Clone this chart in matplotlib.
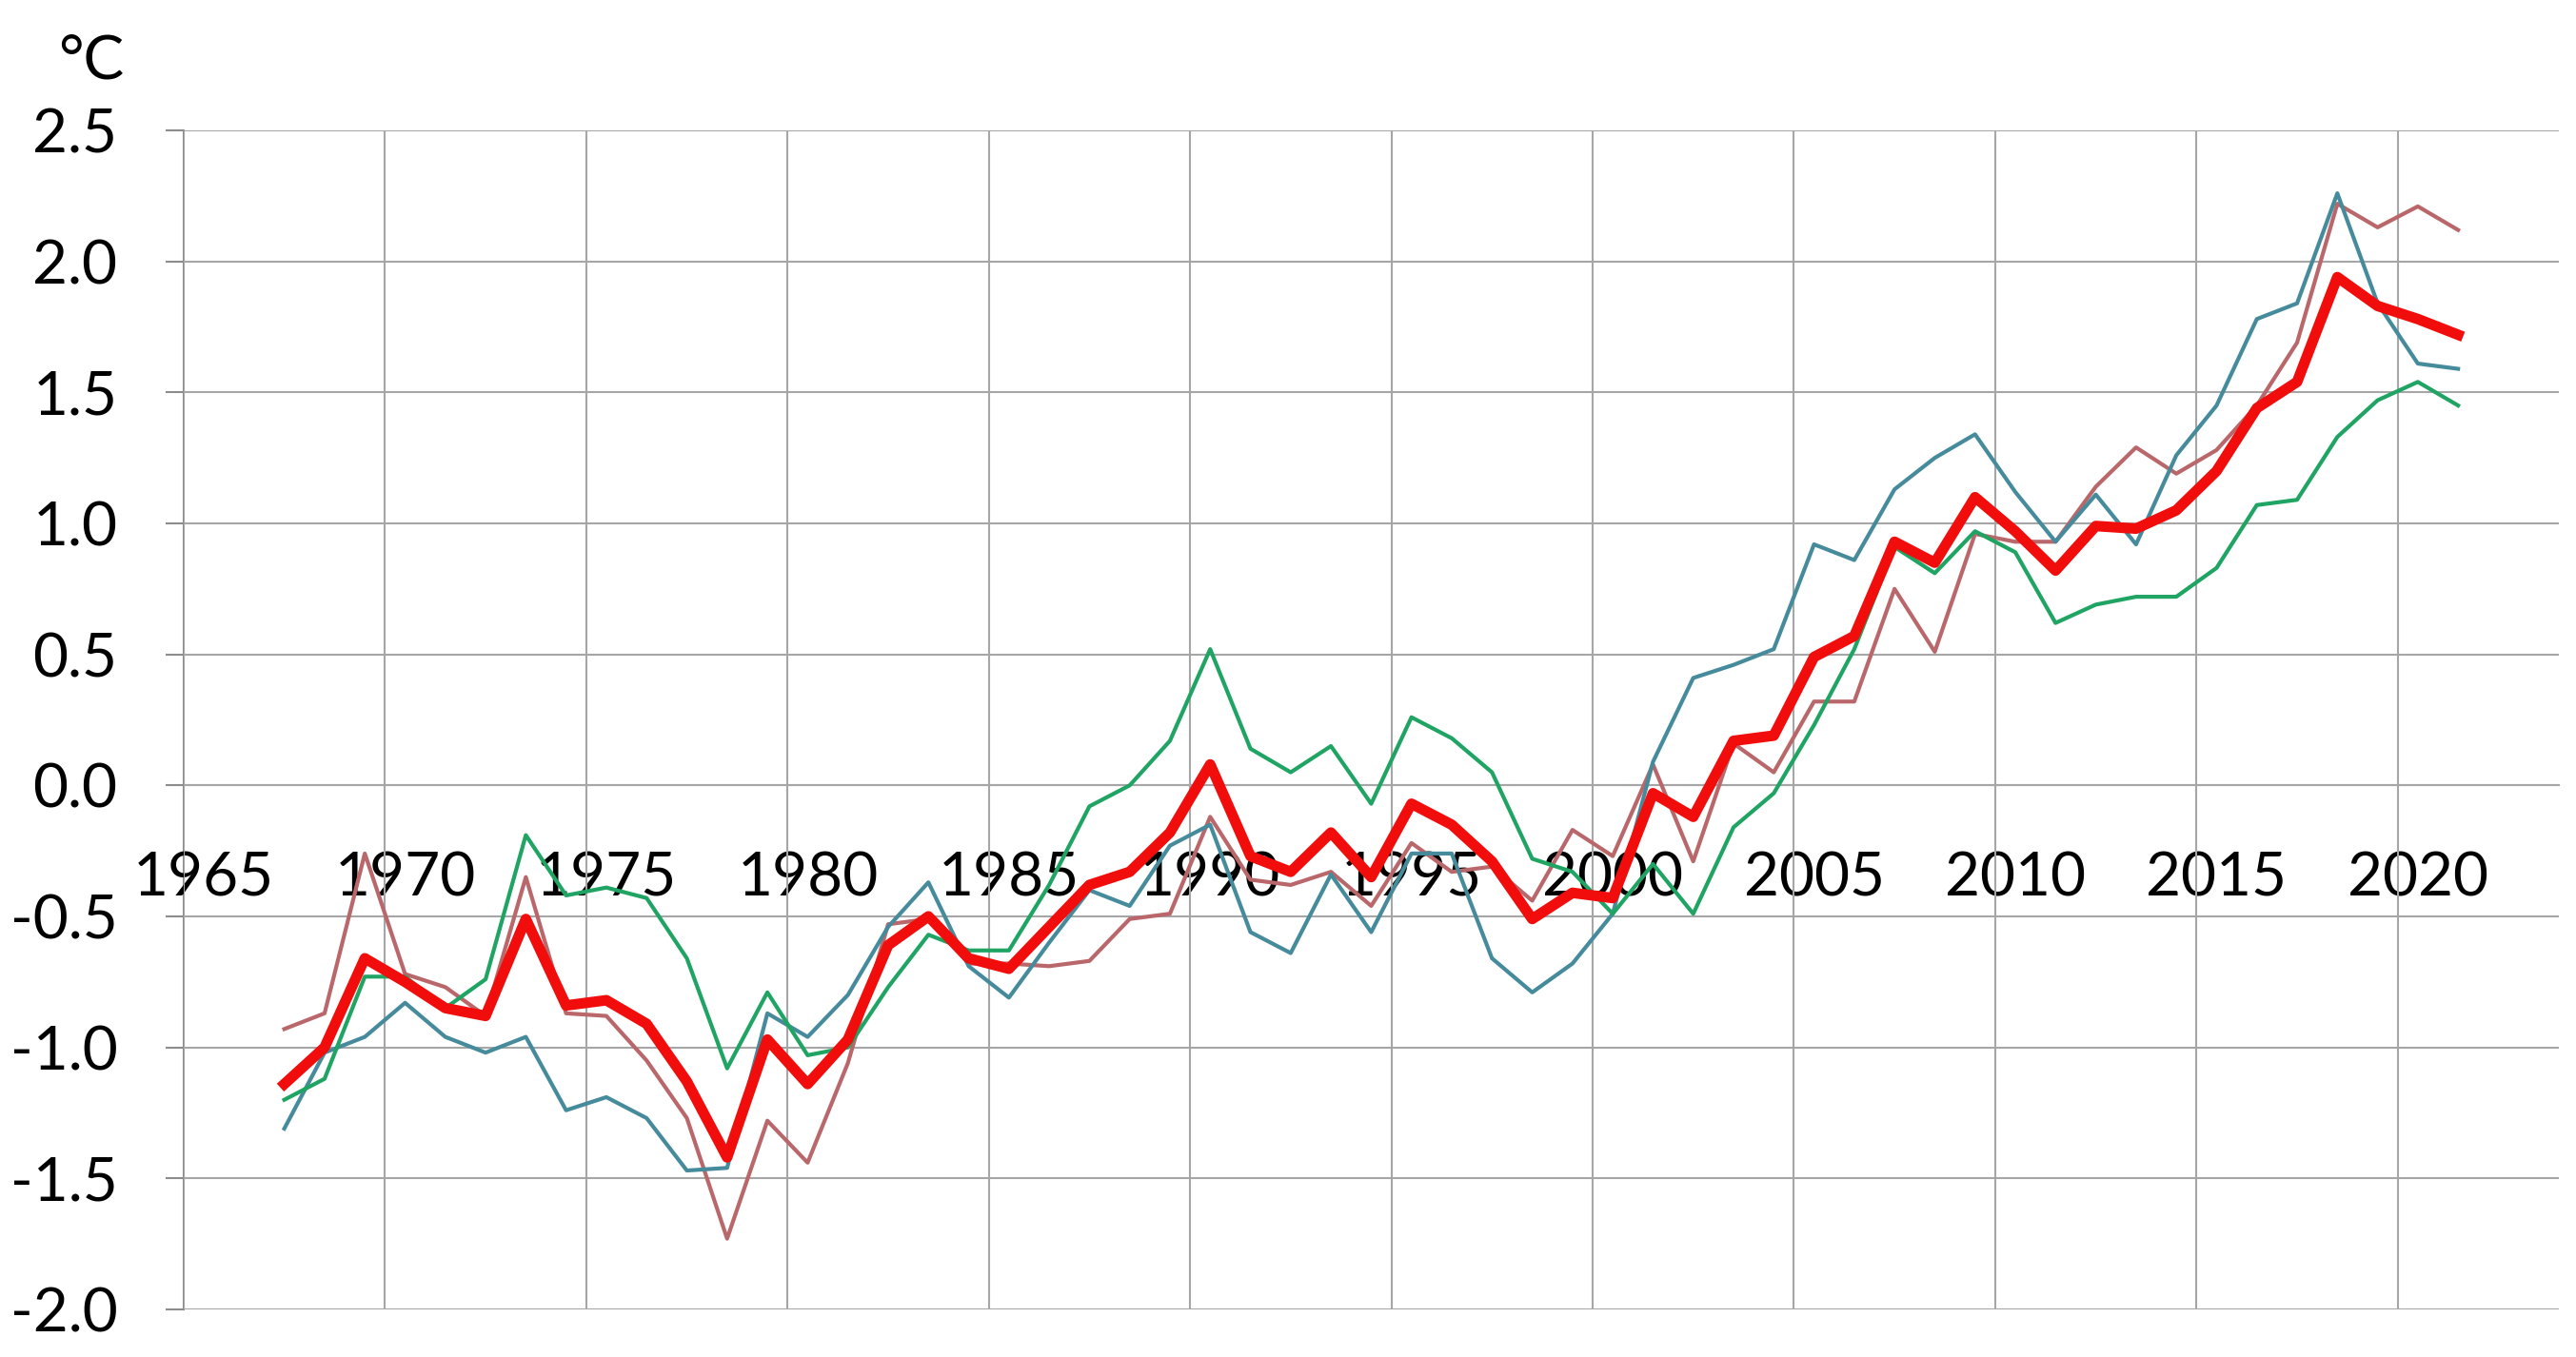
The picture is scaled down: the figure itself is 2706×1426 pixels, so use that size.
import matplotlib
matplotlib.use("Agg")
import matplotlib.pyplot as plt
from matplotlib.ticker import FixedLocator

plt.rcParams['font.family'] = ['Lato', 'DejaVu Sans']

years = list(range(1967, 2022))

# mean of the three series (thick red)
mean_vals = [-1.14, -1.00, -0.66, -0.75, -0.85, -0.88, -0.51, -0.84, -0.82, -0.91,
             -1.13, -1.42, -0.97, -1.14, -0.97, -0.61, -0.50, -0.66, -0.70, -0.54,
             -0.38, -0.33, -0.18, 0.08, -0.27, -0.33, -0.18, -0.35, -0.07, -0.15,
             -0.29, -0.51, -0.41, -0.43, -0.03, -0.12, 0.17, 0.19, 0.49, 0.57,
             0.93, 0.85, 1.10, 0.97, 0.82, 0.99, 0.98, 1.05, 1.20, 1.44,
             1.54, 1.94, 1.83, 1.78, 1.72]
brown_vals = [-0.93, -0.87, -0.26, -0.72, -0.77, -0.88, -0.35, -0.87, -0.88, -1.05,
              -1.27, -1.73, -1.28, -1.44, -1.06, -0.53, -0.51, -0.68, -0.68, -0.69,
              -0.67, -0.51, -0.49, -0.12, -0.36, -0.38, -0.33, -0.46, -0.22, -0.33,
              -0.31, -0.44, -0.17, -0.27, 0.08, -0.29, 0.16, 0.05, 0.32, 0.32,
              0.75, 0.51, 0.96, 0.93, 0.93, 1.14, 1.29, 1.19, 1.28, 1.45,
              1.69, 2.22, 2.13, 2.21, 2.12]
teal_vals = [-1.31, -1.02, -0.96, -0.83, -0.96, -1.02, -0.96, -1.24, -1.19, -1.27,
             -1.47, -1.46, -0.87, -0.96, -0.80, -0.54, -0.37, -0.69, -0.81, -0.60,
             -0.40, -0.46, -0.23, -0.15, -0.56, -0.64, -0.34, -0.56, -0.26, -0.26,
             -0.66, -0.79, -0.68, -0.49, 0.09, 0.41, 0.46, 0.52, 0.92, 0.86,
             1.13, 1.25, 1.34, 1.12, 0.93, 1.11, 0.92, 1.26, 1.45, 1.78,
             1.84, 2.26, 1.84, 1.61, 1.59]
green_vals = [-1.20, -1.12, -0.73, -0.73, -0.85, -0.74, -0.19, -0.42, -0.39, -0.43,
              -0.66, -1.08, -0.79, -1.03, -1.00, -0.77, -0.57, -0.63, -0.63, -0.38,
              -0.08, 0.00, 0.17, 0.52, 0.14, 0.05, 0.15, -0.07, 0.26, 0.18,
              0.05, -0.28, -0.33, -0.49, -0.30, -0.49, -0.16, -0.03, 0.23, 0.52,
              0.91, 0.81, 0.97, 0.89, 0.62, 0.69, 0.72, 0.72, 0.83, 1.07,
              1.09, 1.33, 1.47, 1.54, 1.45]

year_labels = list(range(1965, 2021, 5))
y_ticks = [-2.0, -1.5, -1.0, -0.5, 0.0, 0.5, 1.0, 1.5, 2.0, 2.5]

grid_color = '#a6a6a6'

fig = plt.figure(figsize=(27.06, 14.26), dpi=100)
ax = fig.add_axes([0.0713, 0.0351, 0.9220, 0.8688])

ax.plot(years, brown_vals, color='#b9676a', lw=3.0)
ax.plot(years, teal_vals, color='#468b9c', lw=3.0)
ax.plot(years, green_vals, color='#1fa463', lw=3.0)
ax.plot(years, mean_vals, color='#f20d0d', lw=8, solid_joinstyle='round')

ax.set_xlim(1964.5, 2023.5)
ax.set_ylim(-2.0, 2.5)

# vertical gridlines sit between categories, labels at category centre
ax.xaxis.set_major_locator(FixedLocator(year_labels))
ax.xaxis.set_minor_locator(FixedLocator([y - 0.5 for y in year_labels]))
ax.set_yticks(y_ticks)
ax.set_yticklabels([f'{v:.1f}' for v in y_ticks])

ax.grid(True, which='minor', axis='x', color=grid_color, lw=1.5)
ax.grid(True, which='major', axis='y', color=grid_color, lw=1.5)
ax.set_axisbelow(True)

for s in ['top', 'right']:
    ax.spines[s].set_visible(False)
ax.spines['bottom'].set_position(('data', 0))
ax.spines['bottom'].set_color(grid_color)
ax.spines['bottom'].set_linewidth(1.5)
ax.spines['bottom'].set_zorder(0.5)
ax.spines['left'].set_color('#8c8c8c')
ax.spines['left'].set_linewidth(1.5)
ax.spines['left'].set_zorder(0.5)

ax.tick_params(axis='x', which='both', length=0, pad=50, labelsize=46, labelcolor='black')
ax.tick_params(axis='y', length=14, width=1.5, color='#8c8c8c', pad=36,
               labelsize=46, labelcolor='black')

fig.text(0.048, 0.9418, '°C', fontsize=46, ha='right', va='baseline')

fig.savefig('out.png', dpi=100, facecolor='white')
